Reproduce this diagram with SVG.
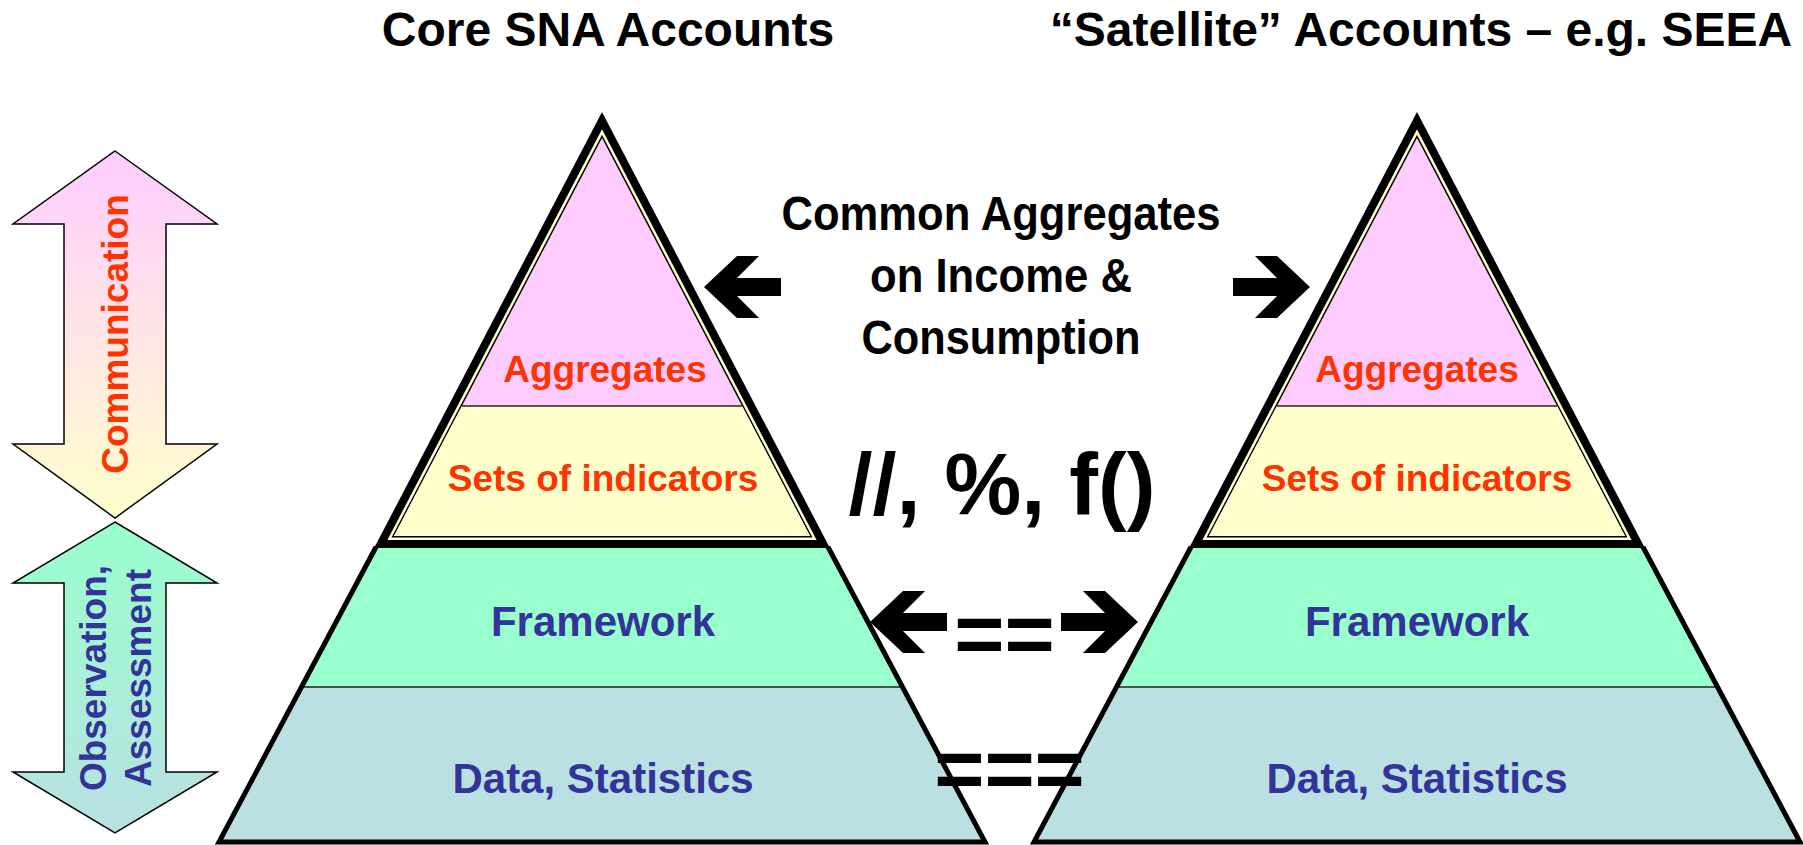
<svg xmlns="http://www.w3.org/2000/svg" xmlns:xlink="http://www.w3.org/1999/xlink" width="1803" height="845" viewBox="0 0 1803 845">
<defs>
  <linearGradient id="gComm" x1="0" y1="0" x2="0" y2="1">
    <stop offset="0" stop-color="#FFCCFF"/>
    <stop offset="1" stop-color="#FFFFCC"/>
  </linearGradient>
  <linearGradient id="gObs" x1="0" y1="0" x2="0" y2="1">
    <stop offset="0" stop-color="#99FFCC"/>
    <stop offset="1" stop-color="#B9E0E3"/>
  </linearGradient>
  <polygon id="arrowHead" points="0,0 33,-31 55,-31 33,-9 77,-9 77,9 33,9 55,31 33,31" fill="#000"/>
</defs>
<style>
  text { font-family: "Liberation Sans", Arial, sans-serif; font-weight: bold; }
  .title { font-size: 48px; fill: #000; text-anchor: middle; }
  .mid { font-size: 48px; fill: #000; text-anchor: middle; }
  .red { fill: #FF3300; font-size: 37px; text-anchor: middle; }
  .blue { fill: #333399; font-size: 42px; text-anchor: middle; }
  .side { font-size: 37px; text-anchor: middle; }
  .eq { font-size: 86px; fill: #000; text-anchor: middle; }
  .sarrow { stroke: #000; stroke-width: 1.5; stroke-linejoin: miter; }
  .fw { fill: #99FFCC; }
  .data { fill: #BBE0E3; }
  .agg { fill: #FFCCFF; }
  .sets { fill: #FFFFCC; }
  .thin { stroke: #222; stroke-width: 1.5; }
  .edge { fill: none; stroke: #000; stroke-width: 5; stroke-linejoin: miter; }
</style>

<g id="title-core"><text class="title" x="608" y="46">Core SNA Accounts</text></g>
<g id="title-satellite"><text class="title" x="1421" y="46">“Satellite” Accounts – e.g. SEEA</text></g>

<g id="arrow-communication">
  <polygon class="sarrow" fill="url(#gComm)" points="115,151 217,224 166,224 166,444 217,444 115,518 13,444 64,444 64,224 13,224"/>
  <text class="side" fill="#FF3300" transform="translate(128,334) rotate(-90)">Communication</text>
</g>

<g id="arrow-observation">
  <polygon class="sarrow" fill="url(#gObs)" points="115,522 217,583 166,583 166,772 217,772 115,833 13,772 64,772 64,583 13,583"/>
  <text class="side" fill="#333399" transform="translate(106,678) rotate(-90)">Observation,</text>
  <text class="side" fill="#333399" transform="translate(151,678) rotate(-90)">Assessment</text>
</g>

<g id="pyramid-core">
  <polygon class="fw" points="376,547 828,547 902.2,687 301.8,687"/>
  <polygon class="data" points="301.8,687 902.2,687 985,842 219,842"/>
  <line class="thin" x1="301.8" y1="687" x2="902.2" y2="687"/>
  <path class="edge" d="M376,547 L219,842 L985,842 L828,547"/>
  <polygon fill="#000" points="602,112 374.1,548 829.9,548"/>
  <polygon fill="#FFFFCC" points="602,129.3 387.4,540 816.6,540"/>
  <polygon fill="#000" points="602,134.7 391.5,537.5 812.5,537.5"/>
  <polygon class="agg" points="602,137.9 394,536 810,536"/>
  <polygon class="sets" points="461.9,406 742.1,406 810,536 394,536"/>
  <line class="thin" x1="461.9" y1="406" x2="742.1" y2="406"/>
  <text class="red" x="605" y="382">Aggregates</text>
  <text class="red" x="603" y="491">Sets of indicators</text>
  <text class="blue" x="603" y="636">Framework</text>
  <text class="blue" x="603" y="793">Data, Statistics</text>
</g>

<g id="pyramid-satellite" transform="translate(815,0)">
  <polygon class="fw" points="376,547 828,547 902.2,687 301.8,687"/>
  <polygon class="data" points="301.8,687 902.2,687 985,842 219,842"/>
  <line class="thin" x1="301.8" y1="687" x2="902.2" y2="687"/>
  <path class="edge" d="M376,547 L219,842 L985,842 L828,547"/>
  <polygon fill="#000" points="602,112 374.1,548 829.9,548"/>
  <polygon fill="#FFFFCC" points="602,129.3 387.4,540 816.6,540"/>
  <polygon fill="#000" points="602,134.7 391.5,537.5 812.5,537.5"/>
  <polygon class="agg" points="602,137.9 394,536 810,536"/>
  <polygon class="sets" points="461.9,406 742.1,406 810,536 394,536"/>
  <line class="thin" x1="461.9" y1="406" x2="742.1" y2="406"/>
  <text class="red" x="602" y="382">Aggregates</text>
  <text class="red" x="602" y="491">Sets of indicators</text>
  <text class="blue" x="602" y="636">Framework</text>
  <text class="blue" x="602" y="793">Data, Statistics</text>
</g>

<g id="label-common">
  <text class="mid" x="1001" y="230" textLength="439" lengthAdjust="spacingAndGlyphs">Common Aggregates</text>
  <text class="mid" x="1001" y="292" textLength="262" lengthAdjust="spacingAndGlyphs">on Income &amp;</text>
  <text class="mid" x="1001" y="354" textLength="279" lengthAdjust="spacingAndGlyphs">Consumption</text>
</g>

<g id="label-ops"><text class="mid" style="font-size:88px" x="1002" y="514" textLength="307" lengthAdjust="spacingAndGlyphs">//, %, f()</text></g>

<g id="connectors">
  <use xlink:href="#arrowHead" transform="translate(704,287)"/>
  <use xlink:href="#arrowHead" transform="translate(1310,287) scale(-1,1)"/>
  <use xlink:href="#arrowHead" transform="translate(870,622)"/>
  <use xlink:href="#arrowHead" transform="translate(1138,622) scale(-1,1)"/>
  <text class="eq" x="1004.5" y="663">==</text>
  <text class="eq" x="1009.5" y="798">===</text>
</g>
</svg>
